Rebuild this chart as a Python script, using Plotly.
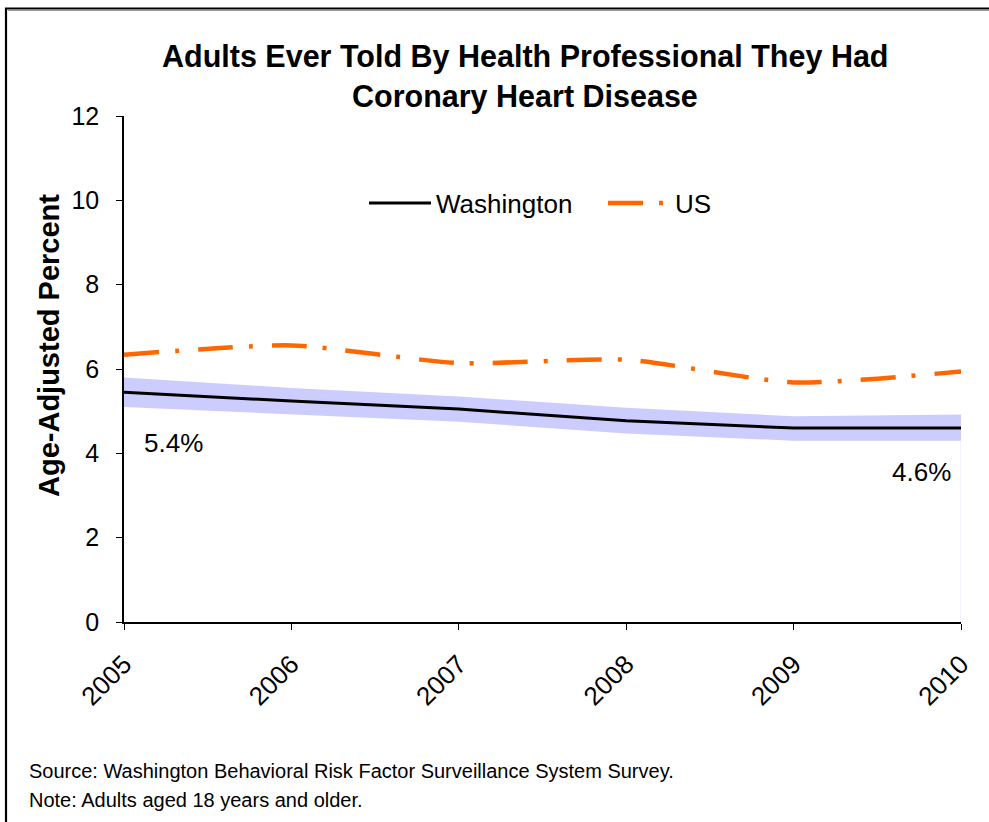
import plotly.graph_objects as go

years = [2005, 2006, 2007, 2008, 2009, 2010]
wa_values = [5.45, 5.24, 5.05, 4.77, 4.6, 4.6]
wa_upper = [5.8, 5.55, 5.35, 5.08, 4.88, 4.92]
wa_lower = [5.1, 4.93, 4.75, 4.47, 4.3, 4.3]
us_values = [6.34, 6.56, 6.14, 6.22, 5.68, 5.94]
y_ticks = [0, 2, 4, 6, 8, 10, 12]

title_line1 = "<b>Adults Ever Told By Health Professional They Had</b>"
title_line2 = "<b>Coronary Heart Disease</b>"
label_first = "5.4%"
label_last = "4.6%"
source_note = "Source: Washington Behavioral Risk Factor Surveillance System Survey."
age_note = "Note: Adults aged 18 years and older."

FONT = "Liberation Sans, Arial, sans-serif"

# plot area in screen pixels
PL, PR, PT, PB = 124, 961, 116, 622
W, H = 989, 822


def px(sx):
    return (sx - PL) / (PR - PL)


def py(sy):
    return (PB - sy) / (PB - PT)


fig = go.Figure()

fig.add_trace(go.Scatter(x=years, y=wa_upper, mode="lines", line=dict(width=0, color="#CCCCFF"),
                         showlegend=False, hoverinfo="skip"))
fig.add_trace(go.Scatter(x=years, y=wa_lower, mode="lines", line=dict(width=0, color="#CCCCFF"),
                         fill="tonexty", fillcolor="#CCCCFF", showlegend=False, hoverinfo="skip"))
fig.add_trace(go.Scatter(x=years, y=wa_values, mode="lines", name="Washington",
                         line=dict(color="black", width=3)))
fig.add_trace(go.Scatter(x=years, y=us_values, mode="lines", name="US",
                         line=dict(color="#FF6600", width=4.5, shape="spline", smoothing=0.6,
                                   dash="35px,16px,4px,19px")))

# faint right edge line of the band area
fig.add_shape(type="line", xref="x", yref="y", x0=years[-1], x1=years[-1], y0=0, y1=wa_lower[-1],
              line=dict(color="#E6E6FA", width=1), layer="below")

# titles
fig.add_annotation(x=px(525), y=py(56), xref="paper", yref="paper", text=title_line1,
                   showarrow=False, xanchor="center", yanchor="middle",
                   font=dict(size=30.5, color="black", family=FONT))
fig.add_annotation(x=px(525), y=py(96), xref="paper", yref="paper", text=title_line2,
                   showarrow=False, xanchor="center", yanchor="middle",
                   font=dict(size=30.5, color="black", family=FONT))

# y-axis title
fig.add_annotation(x=px(49), y=py(346), xref="paper", yref="paper",
                   text="<b>Age-Adjusted Percent</b>", textangle=-90, showarrow=False,
                   xanchor="center", yanchor="middle",
                   font=dict(size=29, color="black", family=FONT))

# value labels
fig.add_annotation(x=px(142), y=py(443), xref="paper", yref="paper", text=label_first,
                   showarrow=False, xanchor="left", yanchor="middle",
                   font=dict(size=26, color="black", family=FONT))
fig.add_annotation(x=px(953), y=py(472), xref="paper", yref="paper", text=label_last,
                   showarrow=False, xanchor="right", yanchor="middle",
                   font=dict(size=26, color="black", family=FONT))

# footer
fig.add_annotation(x=px(27), y=py(771), xref="paper", yref="paper", text=source_note,
                   showarrow=False, xanchor="left", yanchor="middle",
                   font=dict(size=20, color="black", family=FONT))
fig.add_annotation(x=px(27), y=py(800), xref="paper", yref="paper", text=age_note,
                   showarrow=False, xanchor="left", yanchor="middle",
                   font=dict(size=20, color="black", family=FONT))

# outer border
fig.add_shape(type="rect", xref="paper", yref="paper",
              x0=px(6), x1=px(1000), y0=py(840), y1=py(8.5),
              line=dict(color="black", width=2.2))
fig.add_shape(type="line", xref="paper", yref="paper",
              x0=px(8), x1=px(1000), y0=py(10.5), y1=py(10.5),
              line=dict(color="#999999", width=1))

fig.update_layout(
    width=W, height=H,
    paper_bgcolor="white", plot_bgcolor="white",
    margin=dict(l=PL, r=W - PR, t=PT, b=H - PB, autoexpand=False),
    showlegend=True,
    legend=dict(orientation="h", x=px(364), y=py(203), xanchor="left", yanchor="middle",
                font=dict(size=26, color="black", family=FONT), traceorder="normal",
                bgcolor="rgba(0,0,0,0)", itemwidth=62, entrywidth=162, entrywidthmode="pixels"),
    xaxis=dict(range=[2005, 2010], tickvals=years, ticktext=[str(y) for y in years],
               tickangle=-45, showgrid=False, zeroline=False,
               showline=True, linecolor="black", linewidth=1.5,
               ticks="outside", ticklen=6, tickcolor="black", ticklabelstandoff=9,
               tickfont=dict(size=26, color="black", family=FONT)),
    yaxis=dict(range=[0, 12], tickvals=y_ticks, showgrid=False, zeroline=False,
               showline=True, linecolor="black", linewidth=1.5,
               ticks="outside", ticklen=6, tickcolor="black", ticklabelstandoff=12,
               tickfont=dict(size=25, color="black", family=FONT)),
)

fig.write_html("out.html", config={"displayModeBar": False},
               post_script="document.body.style.margin='0';document.body.style.overflow='hidden';")
